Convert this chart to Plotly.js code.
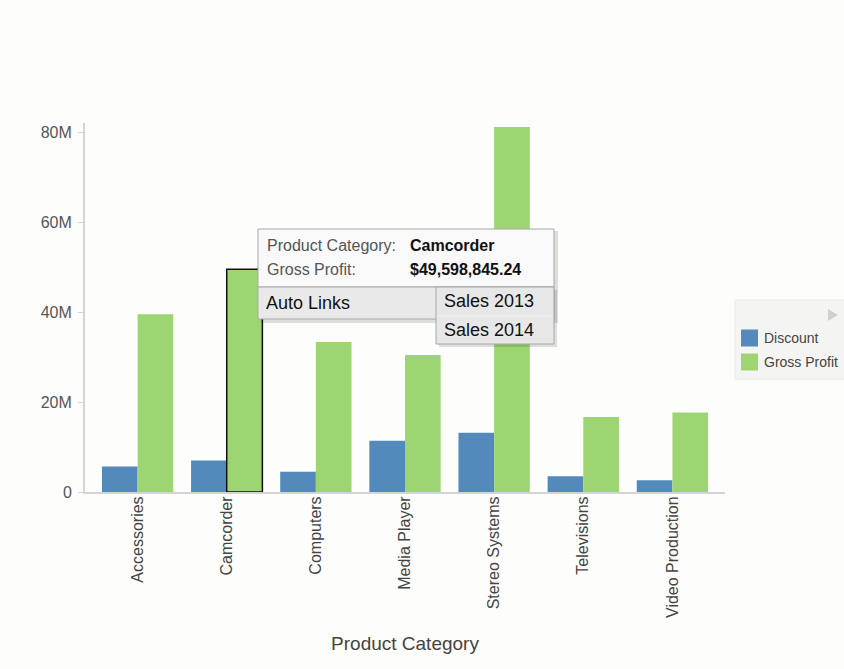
<!DOCTYPE html>
<html>
<head>
<meta charset="utf-8">
<script src="https://cdn.plot.ly/plotly-3.0.1.min.js"></script>
<style>html,body{margin:0;padding:0;background:#fdfefc;}#chart{width:844px;height:669px;}</style>
</head>
<body>
<div id="chart"></div>
<script>
const categories = ["Accessories","Camcorder","Computers","Media Player","Stereo Systems","Televisions","Video Production"];
const discount = [5.7e6, 7.0e6, 4.5e6, 11.4e6, 13.2e6, 3.5e6, 2.6e6];
const grossProfit = [39.6e6, 49598845.24, 33.4e6, 30.5e6, 81.3e6, 16.7e6, 17.7e6];
const seriesNames = ["Discount", "Gross Profit"];
const yTickVals = [0, 20e6, 40e6, 60e6, 80e6];
const yTickText = ["0", "20M", "40M", "60M", "80M"];
const selectedIndex = 1;

const colors = ["#5489bb", "#9dd573"];

// layout geometry (pixels)
const L = 85, R = 725, T = 123, B = 492;
const px = x => (x - L) / (R - L);
const py = y => (B - y) / (B - T);

const font = "Arial, 'Liberation Sans', sans-serif";

const traces = [
  {
    type: "bar", name: seriesNames[0], x: categories, y: discount,
    marker: {color: colors[0]}
  },
  {
    type: "bar", name: seriesNames[1], x: categories, y: grossProfit,
    marker: {
      color: colors[1],
      line: {color: "#111", width: categories.map((c, i) => i === selectedIndex ? 1.5 : 0)}
    }
  }
];

const shapes = [
  // legend box
  {type: "rect", xref: "paper", yref: "paper", x0: px(735), x1: px(852), y0: py(300), y1: py(379),
   fillcolor: "#f4f5f3", line: {color: "#e9eae8", width: 1}, layer: "below"},
  {type: "path", xref: "paper", yref: "paper",
   path: `M ${px(828)} ${py(309)} L ${px(838)} ${py(315)} L ${px(828)} ${py(321)} Z`,
   fillcolor: "#d0d0d0", line: {width: 0}},
  // tooltip shadow
  {type: "rect", xref: "paper", yref: "paper", x0: px(261), x1: px(558), y0: py(231), y1: py(323),
   fillcolor: "rgba(0,0,0,0.12)", line: {width: 0}},
  // tooltip main box
  {type: "rect", xref: "paper", yref: "paper", x0: px(258), x1: px(554), y0: py(229), y1: py(287),
   fillcolor: "#f9f9f9", line: {color: "#a8a8a8", width: 1}},
  {type: "rect", xref: "paper", yref: "paper", x0: px(258), x1: px(554), y0: py(287), y1: py(319),
   fillcolor: "#e9e9e9", line: {color: "#a8a8a8", width: 1}},
  // submenu shadow
  {type: "rect", xref: "paper", yref: "paper", x0: px(439), x1: px(557), y0: py(290), y1: py(347),
   fillcolor: "rgba(0,0,0,0.12)", line: {width: 0}},
  // submenu
  {type: "rect", xref: "paper", yref: "paper", x0: px(436), x1: px(554), y0: py(287), y1: py(344),
   fillcolor: "#e7e7e7", line: {color: "#a8a8a8", width: 1}},
  {type: "line", xref: "paper", yref: "paper", x0: px(437), x1: px(553), y0: py(316), y1: py(316),
   line: {color: "#f4f4f4", width: 1}}
];

const ann = (text, x, y, opts) => Object.assign({
  text, xref: "paper", yref: "paper", x: px(x), y: py(y),
  xanchor: "left", yanchor: "middle", showarrow: false,
  font: {family: font, size: 16, color: "#555"}
}, opts || {});

const annotations = [
  ann("Product Category:", 265, 245),
  ann("<b>" + categories[selectedIndex] + "</b>", 408, 245, {font: {family: font, size: 16, color: "#111"}}),
  ann("Gross Profit:", 265, 269),
  ann("<b>$" + grossProfit[selectedIndex].toLocaleString("en-US", {minimumFractionDigits: 2}) + "</b>", 408, 269,
      {font: {family: font, size: 16, color: "#111"}}),
  ann("Auto Links", 264, 303, {font: {family: font, size: 18, color: "#111"}}),
  ann("Sales 2013", 442, 301, {font: {family: font, size: 18, color: "#111"}}),
  ann("Sales 2014", 442, 330, {font: {family: font, size: 18, color: "#111"}})
];

// legend entries (drawn manually to match the reference's legend box)
seriesNames.forEach((name, i) => {
  const yc = 338 + i * 24;
  shapes.push({type: "rect", xref: "paper", yref: "paper",
    x0: px(741), x1: px(758), y0: py(yc - 8.5), y1: py(yc + 8.5),
    fillcolor: colors[i], line: {width: 0}});
  annotations.push(ann(name, 762, yc, {font: {family: font, size: 14, color: "#444"}}));
});

const layout = {
  width: 844, height: 669,
  margin: {l: L, r: 844 - R, t: T, b: 669 - B, pad: 0, autoexpand: false},
  paper_bgcolor: "#fdfefc", plot_bgcolor: "#fdfefc",
  font: {family: font, color: "#444"},
  barmode: "group", bargap: 0.2, bargroupgap: 0,
  showlegend: false,
  xaxis: {
    type: "category", range: [-0.59, 6.59],
    showline: true, linecolor: "#d4d4d4", linewidth: 2,
    ticks: "", tickangle: -90, showgrid: false, zeroline: false,
    ticklabelstandoff: -4,
    tickfont: {family: font, size: 16, color: "#444"},
    title: {text: "Product Category", font: {family: font, size: 19, color: "#444"}, standoff: 20}
  },
  yaxis: {
    range: [0, 82.2e6], tickvals: yTickVals, ticktext: yTickText,
    showline: true, linecolor: "#d4d4d4", linewidth: 2,
    ticks: "outside", ticklen: 5, tickcolor: "#d4d4d4", tickwidth: 1,
    ticklabelstandoff: 3,
    showgrid: false, zeroline: false,
    tickfont: {family: font, size: 16, color: "#555"}
  },
  shapes, annotations
};

Plotly.newPlot("chart", traces, layout, {displayModeBar: false, staticPlot: true});
</script>
</body>
</html>
